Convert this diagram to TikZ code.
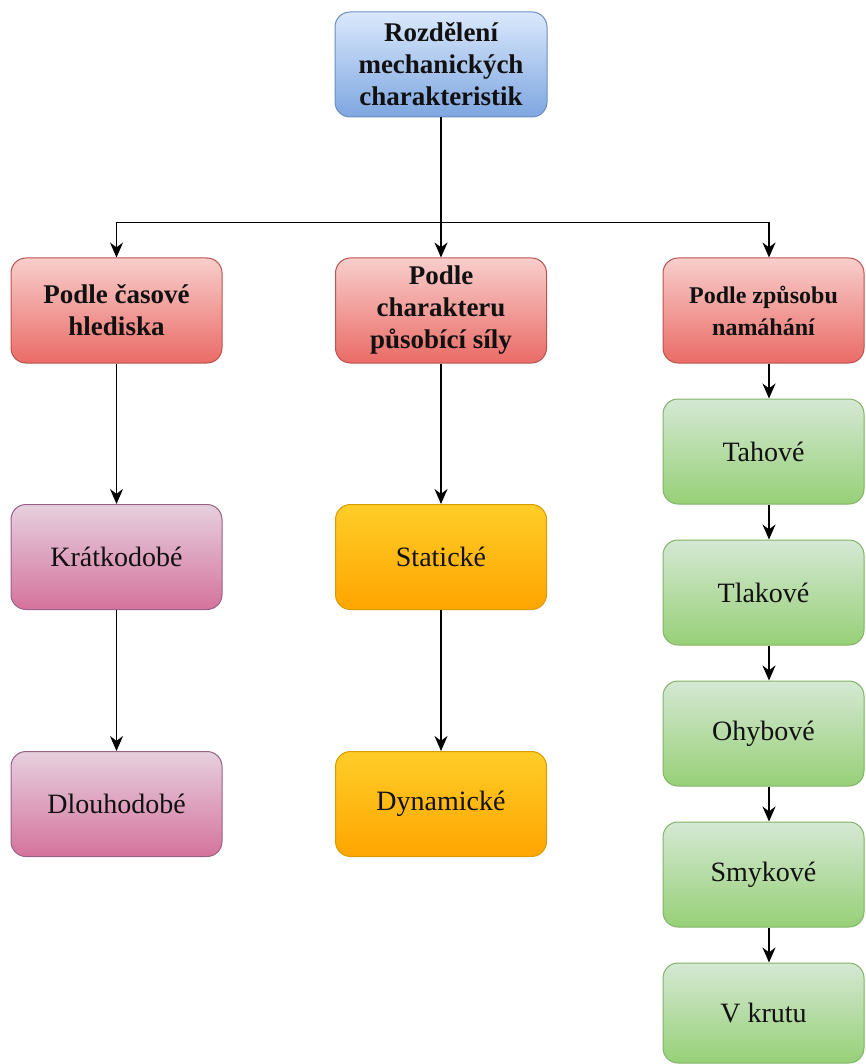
\documentclass[tikz,border=0pt]{standalone}
\usepackage{fontspec}
\setmainfont{Liberation Serif}
\usetikzlibrary{arrows.meta}
\definecolor{bluetop}{HTML}{DAE8FC}\definecolor{bluebot}{HTML}{7EA6E0}\definecolor{blueln}{HTML}{6C8EBF}
\definecolor{redtop}{HTML}{F8CECC}\definecolor{redbot}{HTML}{EA6B66}\definecolor{redln}{HTML}{B85450}
\definecolor{pinktop}{HTML}{E6D0DE}\definecolor{pinkbot}{HTML}{D5739D}\definecolor{pinkln}{HTML}{996185}
\definecolor{orgtop}{HTML}{FFCD28}\definecolor{orgbot}{HTML}{FFA500}\definecolor{orgln}{HTML}{D79B00}
\definecolor{grntop}{HTML}{D5E8D4}\definecolor{grnbot}{HTML}{97D077}\definecolor{grnln}{HTML}{82B366}
\definecolor{txt}{HTML}{111111}
\tikzset{
  box/.style={rectangle, rounded corners=15pt, line width=1pt, align=center, text=txt,
    minimum width=211pt, minimum height=105pt, inner sep=0pt},
  bluebox/.style={box, draw=blueln, top color=bluetop, bottom color=bluebot, minimum width=212pt},
  redbox/.style={box, draw=redln, top color=redtop, bottom color=redbot},
  pinkbox/.style={box, draw=pinkln, top color=pinktop, bottom color=pinkbot},
  orgbox/.style={box, draw=orgln, top color=orgtop, bottom color=orgbot},
  grnbox/.style={box, draw=grnln, top color=grntop, bottom color=grnbot, minimum width=201pt},
  hdr/.style={font=\fontsize{27}{32}\selectfont\bfseries},
  hdrs/.style={font=\fontsize{24}{32}\selectfont\bfseries},
  nrm/.style={font=\fontsize{28}{32}\selectfont},
  arr/.style={draw=black, line width=1.7pt, -{Stealth[length=15pt,width=13pt]}},
}
\begin{document}
\begin{tikzpicture}[x=1pt,y=-1pt]
\useasboundingbox (0,0) rectangle (865,1064);
\node[bluebox,hdr] (top) at (441,64.5) {Rozdělení\\mechanických\\charakteristik};
\node[redbox,hdr] (r1) at (116.5,310.5) {Podle časové\\hlediska};
\node[redbox,hdr] (r2) at (441,310.5) {Podle\\charakteru\\působící síly};
\node[redbox,hdrs,minimum width=201pt] (r3) at (763.5,310.5) {Podle způsobu\\namáhání};
\node[pinkbox,nrm] (p1) at (116.5,557) {Krátkodobé};
\node[pinkbox,nrm] (p2) at (116.5,804) {Dlouhodobé};
\node[orgbox,nrm] (o1) at (441,557) {Statické};
\node[orgbox,nrm] (o2) at (441,804) {Dynamické};
\node[grnbox,nrm] (g1) at (763.5,451.5) {Tahové};
\node[grnbox,nrm] (g2) at (763.5,592.5) {Tlakové};
\node[grnbox,nrm] (g3) at (763.5,733.5) {Ohybové};
\node[grnbox,nrm] (g4) at (763.5,874.5) {Smykové};
\node[grnbox,nrm,minimum height=100pt] (g5) at (763.5,1013) {V krutu};
\coordinate (j) at (441,222.5);
\draw[arr] (top.south) -- (r2.north);
\draw[arr] (j) -| (r1.north);
\draw[arr] (j) -| ([xshift=5.5pt]r3.north);
\draw[arr] (r1.south) -- (p1.north);
\draw[arr] (p1.south) -- (p2.north);
\draw[arr] (r2.south) -- (o1.north);
\draw[arr] (o1.south) -- (o2.north);
\draw[arr] ([xshift=5.5pt]r3.south) -- ([xshift=5.5pt]g1.north);
\draw[arr] ([xshift=5.5pt]g1.south) -- ([xshift=5.5pt]g2.north);
\draw[arr] ([xshift=5.5pt]g2.south) -- ([xshift=5.5pt]g3.north);
\draw[arr] ([xshift=5.5pt]g3.south) -- ([xshift=5.5pt]g4.north);
\draw[arr] ([xshift=5.5pt]g4.south) -- ([xshift=5.5pt]g5.north);
\end{tikzpicture}
\end{document}
